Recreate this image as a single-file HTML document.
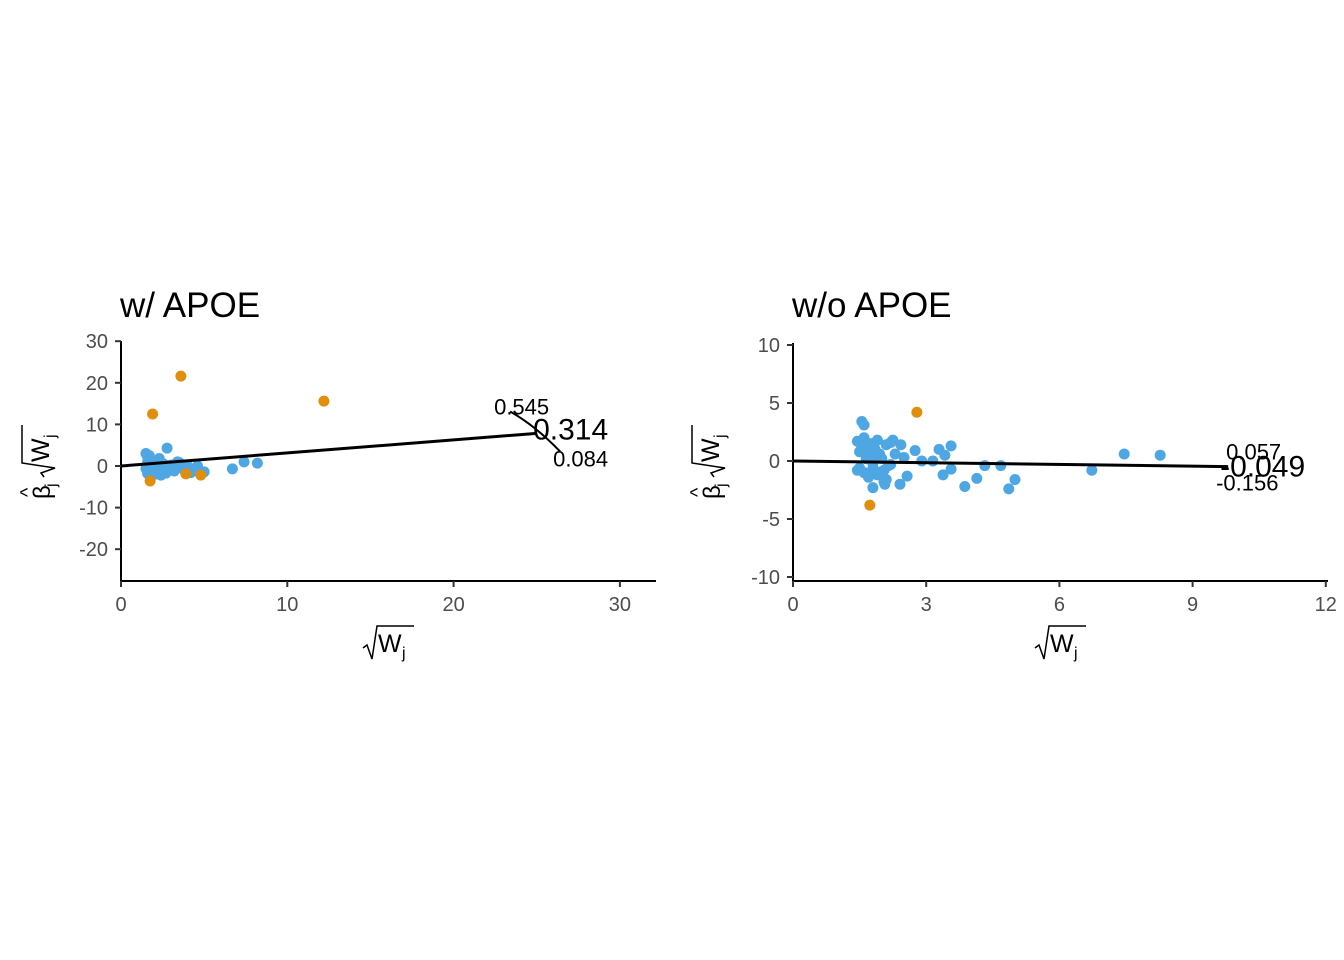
<!DOCTYPE html>
<html><head><meta charset="utf-8"><style>
body{margin:0;background:#fff}
svg{display:block;font-family:"Liberation Sans",Arial,sans-serif}
</style></head><body>
<svg id="c" width="1344" height="960"></svg>
<script>
// Left panel data (w/ APOE)
const leftBlueX=[1.5,1.6,1.7,1.8,1.9,2.0,2.1,2.2,2.3,2.4,2.5,1.5,1.6,1.7,1.8,2.0,2.2,2.4,2.6,2.8,3.0,3.2,3.4,3.6,3.8,4.0,4.2,4.5,4.6,5.0,2.77,6.7,7.4,8.2,1.6,1.9,2.3,2.7,3.1,3.5];
const leftBlueY=[3.0,2.2,1.5,0.5,-0.5,1.2,0.3,-1.0,1.8,-1.5,0.6,-0.6,-1.8,2.5,-0.2,-2.0,-0.5,-2.2,0.4,-0.8,0.2,-1.2,1.0,-0.4,-1.0,0.0,-1.6,-0.5,0.0,-1.4,4.3,-0.7,1.0,0.7,1.0,-1.2,0.8,-1.7,-0.3,0.8];
const leftOrX=[3.6,1.9,12.2,1.75,3.9,4.8];
const leftOrY=[21.6,12.5,15.6,-3.6,-1.9,-2.2];
// Right panel data (w/o APOE)
const rightBlueX=[1.55,1.6,1.45,1.5,1.55,1.6,1.65,1.7,1.75,1.8,1.85,1.9,1.95,2.0,2.05,2.1,2.15,2.2,1.5,1.6,1.7,1.8,1.9,2.0,2.1,2.2,1.45,1.65,1.85,2.05,6.73,7.46,8.27,4.86,5.0,3.87,4.14,4.32,4.68,3.56,3.29,3.42,3.38,3.56,3.15,2.9,2.75,2.57,2.41,2.43,2.25,2.07,1.8,2.5,2.3,1.95];
const rightBlueY=[3.4,3.1,1.7,0.8,1.2,2.0,1.0,0.5,1.5,-0.2,1.0,1.8,0.6,0.2,-0.8,1.4,-0.4,1.6,-0.6,-1.0,-1.4,-0.6,-1.2,-0.9,-1.6,-0.3,-0.8,0.2,0.4,-1.8,-0.8,0.6,0.5,-2.4,-1.6,-2.2,-1.5,-0.4,-0.4,1.3,1.0,0.5,-1.2,-0.7,0.0,0.0,0.9,-1.3,-2.0,1.4,1.8,-2.0,-2.3,0.3,0.6,-1.1];
const rightOrX=[2.79,1.73];
const rightOrY=[4.2,-3.8];
const leftTicksX=[0,10,20,30], leftTicksY=[30,20,10,0,-10,-20];
const rightTicksX=[0,3,6,9,12], rightTicksY=[10,5,0,-5,-10];
const leftSlope=0.314, rightSlope=-0.049;

const NS="http://www.w3.org/2000/svg", svg=document.getElementById('c');
function mk(t,a,p){const e=document.createElementNS(NS,t);for(const k in a)e.setAttribute(k,a[k]);(p||svg).appendChild(e);return e;}

function panel(o){
  const g=mk('g',{});
  
  
  const sx=v=>o.x0+v*o.kx, sy=v=>o.y0-v*o.ky;
  const t=mk('text',{x:o.tx,y:317,'font-size':35,fill:'#000'},g);t.textContent=o.title;
  
  const ya=mk('line',{x1:o.x0,y1:o.yTop,x2:o.x0,y2:581,stroke:'#000','stroke-width':2},g);
  
  const xa=mk('line',{x1:o.x0,y1:581,x2:o.xEnd,y2:581,stroke:'#000','stroke-width':2},g);
  
  o.tX.forEach(v=>{mk('line',{x1:sx(v),y1:581,x2:sx(v),y2:587,stroke:'#333','stroke-width':2},g);
    const l=mk('text',{x:sx(v),y:611,'font-size':20,fill:'#4d4d4d','text-anchor':'middle'},g);l.textContent=v;
    });
  o.tY.forEach(v=>{mk('line',{x1:o.x0-6,y1:sy(v),x2:o.x0,y2:sy(v),stroke:'#333','stroke-width':2},g);
    const l=mk('text',{x:o.x0-13,y:sy(v)+7,'font-size':20,fill:'#4d4d4d','text-anchor':'end'},g);l.textContent=v;
    });
  o.bx.forEach((v,i)=>{const c=mk('circle',{cx:sx(v),cy:sy(o.by[i]),r:5.5,fill:'#4ea6e3'},g);
    });
  o.ox.forEach((v,i)=>{const c=mk('circle',{cx:sx(v),cy:sy(o.oy[i]),r:5.5,fill:'#e08e0b'},g);
    });
  const ln=mk('line',{x1:sx(0),y1:sy(0),x2:sx(o.lend),y2:sy(o.slope*o.lend),stroke:'#000','stroke-width':3},g);
  
  const ex=sx(o.lend), ey=sy(o.slope*o.lend);
  if(o.arc){mk('path',{d:`M${ex-25},${ey-22} Q${ex},${ey-8} ${ex+25},${ey+18}`,stroke:'#000',fill:'none','stroke-width':2},g);}
  o.labels.forEach(L=>{const l=mk('text',{x:ex+L[0],y:ey+L[1],'font-size':L[3],fill:'#000'},g);l.textContent=L[2];
    });
  const xl=mk('g',{transform:`translate(${o.xlab},0)`},g);
  
  mk('path',{d:'M-25,648 L-21,645 L-16,659 L-11,626 L26,626',stroke:'#000',fill:'none','stroke-width':1.5},xl);
  const xt=mk('text',{x:-10,y:652,'font-size':25,fill:'#000'},xl);xt.textContent='W';
  const xs=mk('text',{x:14,y:658,'font-size':16,fill:'#000'},xl);xs.textContent='j';
  const yl=mk('g',{transform:`translate(${o.ylx},461) rotate(-90)`},g);
  
  const b=mk('text',{x:-38,y:8,'font-size':24,fill:'#000'},yl);b.textContent='β';
  const bh=mk('text',{x:-36,y:-8,'font-size':20,fill:'#000'},yl);bh.textContent='^';
  const bj=mk('text',{x:-26,y:14,'font-size':16,fill:'#000'},yl);bj.textContent='j';
  mk('path',{d:'M-16,2 L-12,-1 L-7,13 L-2,-20 L36,-20',stroke:'#000',fill:'none','stroke-width':1.5},yl);
  const w=mk('text',{x:-1,y:7,'font-size':25,fill:'#000'},yl);w.textContent='W';
  const wj=mk('text',{x:23,y:13,'font-size':16,fill:'#000'},yl);wj.textContent='j';
}
panel({name:'panel-with-apoe',title:'w/ APOE',tx:120,x0:121,kx:16.63,y0:466,ky:4.16,yTop:341,xEnd:656,
  tX:leftTicksX,tY:leftTicksY,bx:leftBlueX,by:leftBlueY,ox:leftOrX,oy:leftOrY,slope:leftSlope,lend:24.9,arc:true,
  labels:[[-41,-19,'0.545',22],[-2,6,'0.314',30],[18,33,'0.084',22]],xlab:388,ylx:42});
panel({name:'panel-without-apoe',title:'w/o APOE',tx:792,x0:793,kx:44.4,y0:461,ky:11.6,yTop:343,xEnd:1328,
  tX:rightTicksX,tY:rightTicksY,bx:rightBlueX,by:rightBlueY,ox:rightOrX,oy:rightOrY,slope:rightSlope,lend:9.8,arc:false,
  labels:[[-2,-7,'0.057',22],[-8,10,'-0.049',30],[-12,24,'-0.156',22]],xlab:1060,ylx:712});
</script>
</body></html>
